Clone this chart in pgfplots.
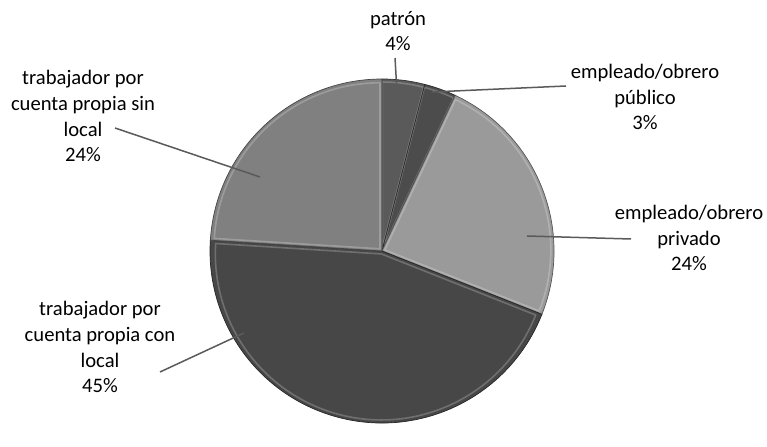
\documentclass[border=0pt]{standalone}
\usepackage{fontspec}
\setmainfont{Carlito}
\usepackage{pgfplots}
\pgfplotsset{compat=1.18}
\usetikzlibrary{calc}
\definecolor{cpatron}{HTML}{5A5A5A}
\definecolor{cpublico}{HTML}{4C4C4C}
\definecolor{cprivado}{HTML}{9A9A9A}
\definecolor{cconlocal}{HTML}{474747}
\definecolor{csinlocal}{HTML}{808080}
\definecolor{cline}{HTML}{5A5A5A}
% slice: #1 = cumulative percent before, #2 = percent, #3 = colour
\newcommand{\slice}[3]{%
  \fill[#3] (axis cs:382,173) -- ++({90-3.6*(#1)}:172bp)
     arc[start angle={90-3.6*(#1)}, end angle={90-3.6*(#1+#2)}, radius=172bp] -- cycle;
  \draw[#3!78!white, line width=1.6bp, line join=round]
     ($(axis cs:382,173)+({90-3.6*(#1+#2/2)}:3bp)$) -- ++({90-3.6*(#1)}:166bp)
     arc[start angle={90-3.6*(#1)}, end angle={90-3.6*(#1+#2)}, radius=166bp] -- cycle;
  \draw[#3!55!black, line width=0.7bp] (axis cs:382,173) -- ++({90-3.6*(#1)}:172bp)
     arc[start angle={90-3.6*(#1)}, end angle={90-3.6*(#1+#2)}, radius=172bp] -- cycle;
}
\begin{document}
\begin{tikzpicture}
\begin{axis}[
  hide axis, scale only axis, clip=false,
  width=767bp, height=424bp,
  xmin=0, xmax=767, ymin=0, ymax=424,
]
\path (axis cs:0,0) rectangle (axis cs:767,424);
% values in percent: patrón 4, público 3, privado 24, con local 45, sin local 24
\slice{0}{4}{cpatron}
\slice{4}{3}{cpublico}
\slice{7}{24}{cprivado}
\slice{31}{45}{cconlocal}
\slice{76}{24}{csinlocal}
\draw[cline, line width=1.5bp] (axis cs:395,366) -- (axis cs:397,332);
\draw[cline, line width=1.5bp] (axis cs:566,338) -- (axis cs:432,332);
\draw[cline, line width=1.5bp] (axis cs:631,185) -- (axis cs:527,188);
\draw[cline, line width=1.5bp] (axis cs:115,296) -- (axis cs:260,247);
\draw[cline, line width=1.5bp] (axis cs:160,52) -- (axis cs:244,91);
\tikzset{lab/.style={align=center, text=black, font=\fontsize{20.7}{26}\selectfont, inner sep=0pt}}
\node[lab] at (axis cs:398,393) {patrón\\4\%};
\node[lab] at (axis cs:645,327) {empleado/obrero\\público\\3\%};
\node[lab] at (axis cs:689,186) {empleado/obrero\\privado\\24\%};
\node[lab] at (axis cs:83,308) {trabajador por\\cuenta propia sin\\local\\24\%};
\node[lab] at (axis cs:100,77) {trabajador por\\cuenta propia con\\local\\45\%};
\end{axis}
\end{tikzpicture}
\end{document}
